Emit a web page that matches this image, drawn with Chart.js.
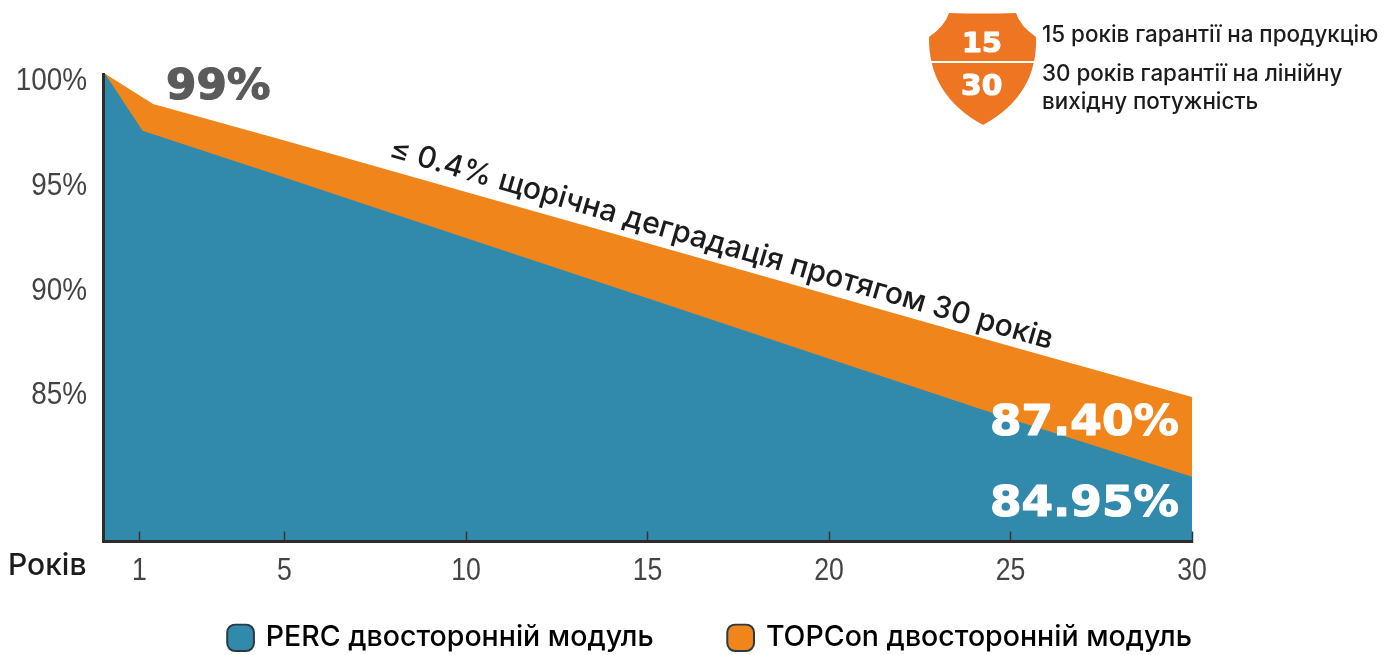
<!DOCTYPE html>
<html>
<head>
<meta charset="utf-8">
<style>
  html, body { margin: 0; padding: 0; background: #fff; }
  #wrap { width: 1400px; height: 655px; }
</style>
<script src="https://cdn.jsdelivr.net/npm/chart.js@4/dist/chart.umd.min.js"></script>
</head>
<body>
<div id="wrap"><canvas id="chartCanvas" width="1400" height="655"></canvas></div>
<script>
// values, against its own % axis
const yearsPerc = [0.05, 1.09, 5, 10, 15, 20, 25, 30];
const valuesPerc = [100.22, 97.49, 95.25, 92.36, 89.49, 86.6, 83.72, 80.96];
const yearsTopcon = [0.05, 1.38, 5, 10, 15, 20, 25, 30];
const valuesTopcon = [100.22, 98.77, 97.02, 94.56, 92.11, 89.65, 87.19, 84.77];
const yearTicks = [1, 5, 10, 15, 20, 25, 30];
const percentTicks = [85, 90, 95, 100];
const seriesNames = ['PERC двосторонній модуль', 'TOPCon двосторонній модуль'];

const BLUE = '#3189AB';
const ORANGE = '#F0851B';
const BADGE = '#EE7522';
const FONT = 'Inter, "Noto Sans", sans-serif';
const TICK_FONT = '31px "Liberation Sans", sans-serif';

function toXY(xs, ys) {
  return xs.map((x, i) => ({ x: x, y: ys[i] }));
}

// wide heavy numerals, the picture uses an extended face
function wideText(ctx, text, x, y, size, color, stretch) {
  ctx.save();
  ctx.translate(x, y);
  ctx.scale(stretch, 1);
  ctx.font = `bold ${size}px "DejaVu Sans"`;
  ctx.fillStyle = color;
  ctx.strokeStyle = color;
  ctx.lineWidth = 1.2;
  ctx.lineJoin = 'round';
  ctx.textAlign = 'left';
  ctx.textBaseline = 'alphabetic';
  ctx.strokeText(text, 0, 0);
  ctx.fillText(text, 0, 0);
  ctx.restore();
}

function plainText(ctx, text, x, y, size, weight) {
  ctx.font = `${weight} ${size}px ${FONT}`;
  ctx.fillStyle = '#1c1c1c';
  ctx.textAlign = 'left';
  ctx.textBaseline = 'alphabetic';
  ctx.fillText(text, x, y);
}

// tick labels are a condensed face in the picture, so squeeze them a bit
function tickText(ctx, text, x, y, align, squeeze) {
  ctx.save();
  ctx.translate(x, y);
  ctx.scale(squeeze, 1);
  ctx.font = TICK_FONT;
  ctx.fillStyle = '#444';
  ctx.textAlign = align;
  ctx.textBaseline = 'alphabetic';
  ctx.fillText(text, 0, 0);
  ctx.restore();
}

function drawBadge(ctx) {
  ctx.save();
  ctx.fillStyle = BADGE;
  ctx.beginPath();
  ctx.moveTo(949, 13);
  ctx.quadraticCurveTo(983, 14, 1016, 13);
  ctx.quadraticCurveTo(1020, 26, 1036, 37);
  ctx.quadraticCurveTo(1038, 95, 983, 125);
  ctx.quadraticCurveTo(928, 95, 929, 37);
  ctx.quadraticCurveTo(945, 26, 949, 13);
  ctx.closePath();
  ctx.fill();
  ctx.fillStyle = '#fff';
  ctx.fillRect(929, 61, 108, 2);
  ctx.restore();
  wideText(ctx, '15', 962, 52, 27, '#fff', 1.06);
  wideText(ctx, '30', 961, 95, 28, '#fff', 1.06);
}

const annotations = {
  id: 'annotations',
  // legend sits lower in the picture than the layout puts it
  afterLayout(chart) {
    chart.legend.top += 7;
    chart.legend.bottom += 7;
  },
  afterDraw(chart) {
    const ctx = chart.ctx;
    const xAxis = chart.scales.x;
    const yAxis = chart.scales.y;

    yearTicks.forEach(v => tickText(ctx, String(v), xAxis.getPixelForValue(v), 580, 'center', 0.86));
    percentTicks.forEach(v => tickText(ctx, v + '%', 87, yAxis.getPixelForValue(v) + 12, 'right', 0.9));

    wideText(ctx, '99%', 166, 99, 42, '#5a5a5a', 1.04);
    wideText(ctx, '87.40%', 990, 435, 42, '#fff', 1.08);
    wideText(ctx, '84.95%', 990, 516, 42, '#fff', 1.08);

    ctx.save();
    ctx.translate(388, 157);
    ctx.rotate(16.2 * Math.PI / 180);
    plainText(ctx, '≤ 0.4% щорічна деградація протягом 30 років', 0, 0, 30, 500);
    ctx.restore();

    plainText(ctx, 'Років', 8, 575, 30, 500);
    drawBadge(ctx);
    plainText(ctx, '15 років гарантії на продукцію', 1042, 42, 22.4, 500);
    plainText(ctx, '30 років гарантії на лінійну', 1042, 81, 22.4, 500);
    plainText(ctx, 'вихідну потужність', 1042, 109, 22.4, 500);
  }
};

new Chart(document.getElementById('chartCanvas').getContext('2d'), {
  type: 'line',
  data: {
    datasets: [
      { label: seriesNames[0], data: toXY(yearsPerc, valuesPerc), backgroundColor: BLUE, fill: 'start', borderWidth: 0, pointRadius: 0, tension: 0, clip: false },
      { label: seriesNames[1], data: toXY(yearsTopcon, valuesTopcon), backgroundColor: ORANGE, fill: 'start', borderWidth: 0, pointRadius: 0, tension: 0, clip: false }
    ]
  },
  options: {
    responsive: false,
    animation: false,
    layout: { padding: { top: 74, right: 208, bottom: 0, left: 0 } },
    plugins: {
      tooltip: { enabled: false },
      title: { display: false },
      legend: {
        display: true,
        position: 'bottom',
        align: 'end',
        labels: {
          color: '#1c1c1c',
          font: { family: FONT, size: 28.5, weight: '500' },
          padding: 0,
          boxWidth: 22,
          boxHeight: 22,
          usePointStyle: true,
          generateLabels(chart) {
            return chart.data.datasets.map((ds, i) => ({
              // the gap between the two entries
              text: i === 0 ? ds.label + '\u00A0'.repeat(10) : ds.label,
              fillStyle: ds.backgroundColor,
              strokeStyle: '#2b3a42',
              lineWidth: 2,
              pointStyle: 'rectRounded',
              datasetIndex: i
            }));
          }
        }
      }
    },
    scales: {
      x: {
        type: 'linear',
        min: 0,
        max: 30,
        afterBuildTicks(axis) { axis.ticks = yearTicks.map(v => ({ value: v })); },
        afterFit(axis) { axis.height = 75; axis.paddingLeft = 0; axis.paddingRight = 0; },
        border: { color: '#2d2d2d', width: 3, z: 1 },
        grid: { drawOnChartArea: false, drawTicks: true, tickLength: -10, tickColor: '#33343a', tickWidth: 1.5, z: 1 },
        ticks: { display: false }
      },
      y: {
        min: 77.867,
        max: 100.2,
        afterBuildTicks(axis) { axis.ticks = percentTicks.map(v => ({ value: v })); },
        afterFit(axis) { axis.width = 103; axis.paddingTop = 0; axis.paddingBottom = 0; },
        border: { color: '#2d2d2d', width: 3, z: 1 },
        grid: { display: false },
        ticks: { display: false }
      }
    }
  },
  plugins: [annotations]
});
</script>
</body>
</html>
